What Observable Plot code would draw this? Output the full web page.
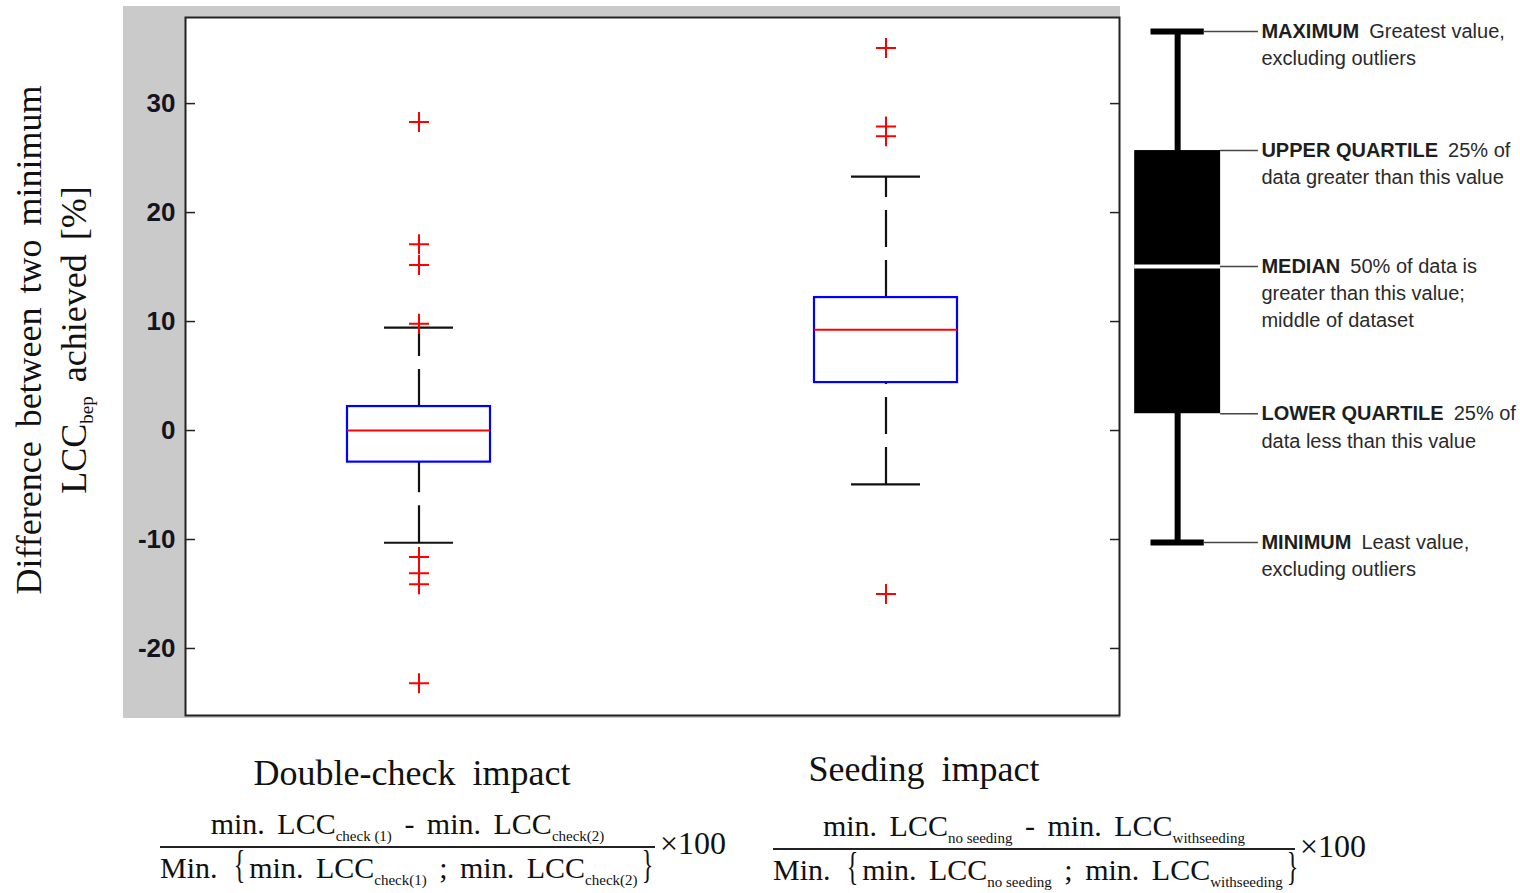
<!DOCTYPE html>
<html>
<head>
<meta charset="utf-8">
<script src="https://cdn.jsdelivr.net/npm/d3@7"></script>
<script src="https://cdn.jsdelivr.net/npm/@observablehq/plot@0.6"></script>
<style>
  body { margin: 0; background: #fff; }
  #page { position: relative; width: 1520px; height: 893px; overflow: hidden; background: #fff;
          font-family: "Liberation Serif", "Times New Roman", serif; color: #111; }
  #main { position: absolute; left: 123px; top: 6px; }
  #legend { position: absolute; left: 1120px; top: 0; }
  .ytitle { position: absolute; left: -228px; top: 295px; width: 560px; height: 90px;
            transform: rotate(-90deg); transform-origin: 50% 50%;
            text-align: center; font-size: 36px; line-height: 45px; word-spacing: 5px; white-space: nowrap; }
  .cat { position: absolute; width: 500px; text-align: center; font-size: 36px; line-height: 36px;
         word-spacing: 8px; white-space: nowrap; }
  .frac { position: absolute; font-size: 30px; text-align: center; white-space: nowrap; word-spacing: 5px; }
  .frac .num { height: 44px; line-height: 44px; border-bottom: 2px solid #222; }
  .frac .den { line-height: 40px; }
  .frac sub { font-size: 15px; position: relative; top: 0.45em; vertical-align: baseline; word-spacing: 0; }
  .brace { font-size: 40px; display: inline-block; transform: scaleX(0.6); line-height: 30px; }
  .x100 { position: absolute; font-size: 32px; line-height: 36px; }
  sub.bep { font-size: 19px; position: relative; top: 0.35em; vertical-align: baseline; word-spacing: 0; }
</style>
</head>
<body>
<div id="page">
  <div class="ytitle">Difference between two minimum<br>LCC<sub class="bep">bep</sub> achieved [%]</div>
  <div id="main"></div>
  <div id="legend"></div>

  <div class="cat" style="left:162px;top:755px;">Double-check impact</div>
  <div class="cat" style="left:674px;top:751px;">Seeding impact</div>

  <div class="frac" style="left:160px;top:802px;width:495px;">
    <div class="num">min. LCC<sub>check (1)</sub> - min. LCC<sub>check(2)</sub></div>
    <div class="den">Min. <span class="brace">{</span>min. LCC<sub>check(1)</sub> ; min. LCC<sub>check(2)</sub><span class="brace">}</span></div>
  </div>
  <div class="x100" style="left:660px;top:825px;">×100</div>

  <div class="frac" style="left:773px;top:804px;width:522px;">
    <div class="num">min. LCC<sub>no seeding</sub> - min. LCC<sub>withseeding</sub></div>
    <div class="den">Min. <span class="brace">{</span>min. LCC<sub>no seeding</sub> ; min. LCC<sub>withseeding</sub><span class="brace">}</span></div>
  </div>
  <div class="x100" style="left:1300px;top:828px;">×100</div>
</div>

<script>
// ---- Box plot statistics (difference in %) ----
const categories = ["Double-check impact", "Seeding impact"];
const whiskerLow  = [-10.3, -4.95];
const quartile1   = [-2.9, 4.4];
const medians     = [0.0, 9.25];
const quartile3   = [2.2, 12.2];
const whiskerHigh = [9.45, 23.3];
const outliersDoubleCheck = [28.3, 17.1, 15.2, 9.8, -11.6, -13.1, -14.1, -23.2];
const outliersSeeding     = [35.1, 27.9, 27.0, -15.0];
const yTicks = [-20, -10, 0, 10, 20, 30];

// ---- Legend (schematic box) ----
const legendLabels = ["MAXIMUM", "UPPER QUARTILE", "MEDIAN", "LOWER QUARTILE", "MINIMUM"];
const legendValues = [10, 7.67, 5.4, 2.52, 0];
const legendLeads  = ["Greatest value,", "25% of", "50% of data is", "25% of", "Least value,"];
const legendMore   = [["excluding outliers"], ["data greater than this value"],
                      ["greater than this value;", "middle of dataset"],
                      ["data less than this value"], ["excluding outliers"]];

// tables built from the arrays above
const boxes = categories.map((c, i) => ({
  category: c, low: whiskerLow[i], q1: quartile1[i], median: medians[i], q3: quartile3[i], high: whiskerHigh[i]
}));
const whiskers = boxes.flatMap(b => [
  {category: b.category, from: b.low, to: b.q1},
  {category: b.category, from: b.q3, to: b.high}
]);
const caps = boxes.flatMap(b => [{category: b.category, value: b.low}, {category: b.category, value: b.high}]);
const outliers = [
  ...outliersDoubleCheck.map(v => ({category: categories[0], value: v})),
  ...outliersSeeding.map(v => ({category: categories[1], value: v}))
];

// thin "+" marker
const plusSymbol = {
  draw(context, size) {
    const r = Math.sqrt(size / Math.PI);
    context.moveTo(-r, 0); context.lineTo(r, 0);
    context.moveTo(0, -r); context.lineTo(0, r);
  }
};

const boxInset = 162;
const capInset = 199;

const main = Plot.plot({
  width: 997,
  height: 712,
  marginLeft: 62,
  marginRight: 1,
  marginTop: 11,
  marginBottom: 3,
  style: {background: "#cacaca", fontFamily: "'Liberation Sans', Arial, sans-serif", fontSize: "26px", color: "#111", overflow: "visible"},
  x: {type: "band", domain: categories, padding: 0, axis: null},
  y: {domain: [-26.15, 37.9], axis: null},
  marks: [
    Plot.frame({fill: "white", stroke: null}),
    Plot.axisY(yTicks, {anchor: "left", tickSize: -10, tickPadding: 20, label: null, tickFormat: d => String(d),
                        fontWeight: "bold", strokeWidth: 1.5, stroke: "#222", fill: "#141420"}),
    Plot.axisY(yTicks, {anchor: "right", tickSize: -10, label: null, fill: "none", strokeWidth: 1.5, stroke: "#222"}),
    Plot.ruleX(whiskers, {x: "category", y1: "from", y2: "to", stroke: "#111", strokeWidth: 2.2, strokeDasharray: "37,13"}),
    Plot.tickY(caps, {x: "category", y: "value", stroke: "#111", strokeWidth: 2.2, insetLeft: capInset, insetRight: capInset}),
    Plot.barY(boxes, {x: "category", y1: "q1", y2: "q3", fill: "none", stroke: "#0000ff", strokeWidth: 2.2, insetLeft: boxInset, insetRight: boxInset}),
    Plot.tickY(boxes, {x: "category", y: "median", stroke: "#ff0000", strokeWidth: 2, insetLeft: boxInset, insetRight: boxInset}),
    Plot.dot(outliers, {x: "category", y: "value", symbol: plusSymbol, r: 10, fill: "none", stroke: "#ff0000", strokeWidth: 2}),
    Plot.frame({stroke: "#222", strokeWidth: 2})
  ]
});
document.getElementById("main").appendChild(main);

// ---- legend drawing ----
const legendRows = legendLabels.map((label, i) => ({label, value: legendValues[i], lead: legendLeads[i], more: legendMore[i], isCap: i === 0 || i === legendLabels.length - 1}));
const lgMin = Math.min(...legendValues), lgMax = Math.max(...legendValues);
const lgQ1 = legendValues[3], lgMed = legendValues[2], lgQ3 = legendValues[1];
const boxHalf = 1, capHalf = 0.62, leaderEnd = 1.88, textX = 1.95;

const legend = Plot.plot({
  width: 400,
  height: 600,
  marginLeft: 0, marginRight: 0, marginTop: 31, marginBottom: 58,
  style: {background: "transparent", fontFamily: "'Liberation Sans', Arial, sans-serif", fontSize: "20px", color: "#222", overflow: "visible"},
  x: {domain: [-1.33, 7.98], axis: null},
  y: {domain: [0, 10], axis: null},
  marks: [
    Plot.ruleX([0], {x: 0, y1: lgMin, y2: lgMax, stroke: "black", strokeWidth: 6}),
    Plot.rect([0], {x1: -boxHalf, x2: boxHalf, y1: lgQ1, y2: lgQ3, fill: "black"}),
    Plot.ruleY([lgMed], {x1: -boxHalf, x2: boxHalf, stroke: "white", strokeWidth: 4}),
    Plot.ruleY([lgMin, lgMax], {x1: -capHalf, x2: capHalf, stroke: "black", strokeWidth: 6}),
    Plot.ruleY(legendRows, {y: "value", x1: d => d.isCap ? capHalf : boxHalf, x2: leaderEnd, stroke: "#444", strokeWidth: 1.5}),
    Plot.text(legendRows, {x: textX, y: "value", text: "label", textAnchor: "start", fontWeight: "bold", fill: "#1e1e1e", ariaDescription: "legend-label"}),
    Plot.text(legendRows, {x: textX, y: "value", text: d => d.more.join("\n"), textAnchor: "start", lineAnchor: "top", dy: 15, lineHeight: 1.33, fill: "#2a2a2a"})
  ]
});
document.getElementById("legend").appendChild(legend);

// append the regular-weight description after each bold label
const svgNS = "http://www.w3.org/2000/svg";
legend.querySelectorAll('g[aria-description="legend-label"] text').forEach((node, i) => {
  const t = document.createElementNS(svgNS, "tspan");
  t.setAttribute("font-weight", "normal");
  t.setAttribute("dx", "10");
  t.setAttribute("fill", "#2a2a2a");
  t.textContent = legendRows[i].lead;
  node.appendChild(t);
});
</script>
</body>
</html>
